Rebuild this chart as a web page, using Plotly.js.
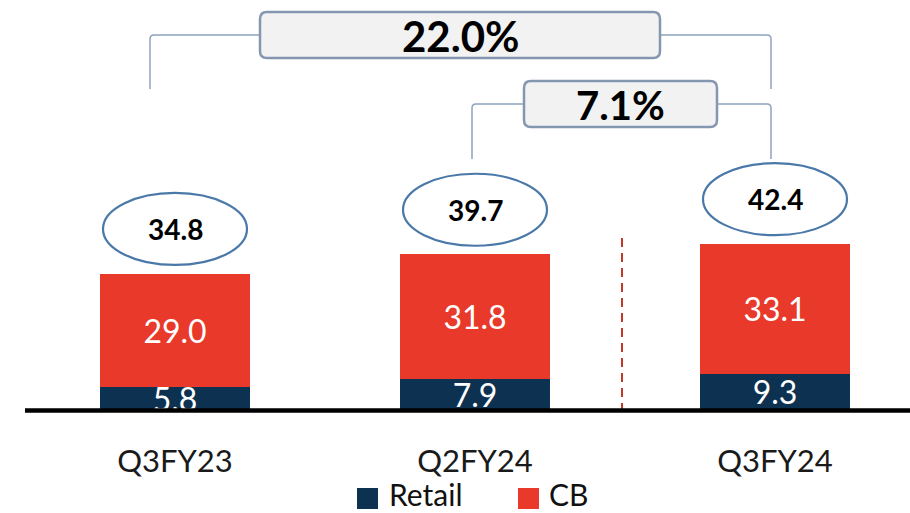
<!DOCTYPE html>
<html>
<head>
<meta charset="utf-8">
<script src="https://cdn.plot.ly/plotly-3.0.1.min.js"></script>
<style>html,body{margin:0;padding:0;background:#fff;}#chart{width:910px;height:513px;}</style>
</head>
<body>
<div id="chart"></div>
<script>
const categories = ['Q3FY23', 'Q2FY24', 'Q3FY24'];
const retail = [5.8, 7.9, 9.3];
const cb = [29.0, 31.8, 33.1];
const totals = [34.8, 39.7, 42.4];
const growthLabels = ['22.0%', '7.1%'];
const seriesNames = ['Retail', 'CB'];

const W = 910, H = 513, PB = 410;
const FONT = 'Lato, "Open Sans", sans-serif';
const NAVY = '#0d3150', RED = '#e8392a';
const pxX = x => x / W;
const pxY = y => (PB - y) / PB;
const yMax = PB / 3.92;

const traces = [
  {type: 'bar', name: seriesNames[0], x: categories, y: retail, marker: {color: NAVY},
   text: retail.map(v => v.toFixed(1)), textposition: 'inside', insidetextanchor: 'middle',
   constraintext: 'none', textangle: 0, cliponaxis: false,
   textfont: {family: FONT, size: 32, color: '#ffffff'}, width: 0.5, hoverinfo: 'skip', showlegend: false},
  {type: 'bar', name: seriesNames[1], x: categories, y: cb, marker: {color: RED},
   text: cb.map(v => v.toFixed(1)), textposition: 'inside', insidetextanchor: 'middle',
   constraintext: 'none', textangle: 0, cliponaxis: false,
   textfont: {family: FONT, size: 32, color: '#ffffff'}, width: 0.5, hoverinfo: 'skip', showlegend: false}
];

const shapes = [];
const annotations = [];

// ellipses with totals
const ellH = 72 / 3.92;
totals.forEach((t, i) => {
  const y0 = t + 2.2, y1 = y0 + ellH;
  shapes.push({type: 'circle', xref: 'x', yref: 'y', x0: i - 0.24, x1: i + 0.24, y0: y0, y1: y1,
    line: {color: '#4a78a8', width: 2.2}, fillcolor: 'rgba(255,255,255,0)'});
  annotations.push({xref: 'x', yref: 'y', x: i, y: (y0 + y1) / 2, text: '<b>' + t.toFixed(1) + '</b>',
    showarrow: false, font: {family: FONT, size: 28, color: '#000'}, xanchor: 'center', yanchor: 'middle'});
});

// bracket helper
function bracket(xl, xr, yTop, yBotL, yBotR) {
  const r = 4;
  const p = (x, y) => pxX(x) + ',' + pxY(y);
  return 'M' + p(xl, yBotL) + ' L' + p(xl, yTop + r) + ' Q' + p(xl, yTop) + ' ' + p(xl + r, yTop) +
    ' L' + p(xr - r, yTop) + ' Q' + p(xr, yTop) + ' ' + p(xr, yTop + r) + ' L' + p(xr, yBotR);
}
function roundRect(x0, y0, x1, y1, r) {
  const p = (x, y) => pxX(x) + ',' + pxY(y);
  return 'M' + p(x0 + r, y0) + ' L' + p(x1 - r, y0) + ' Q' + p(x1, y0) + ' ' + p(x1, y0 + r) +
    ' L' + p(x1, y1 - r) + ' Q' + p(x1, y1) + ' ' + p(x1 - r, y1) +
    ' L' + p(x0 + r, y1) + ' Q' + p(x0, y1) + ' ' + p(x0, y1 - r) +
    ' L' + p(x0, y0 + r) + ' Q' + p(x0, y0) + ' ' + p(x0 + r, y0) + ' Z';
}
const bracketLine = {color: '#8fa2bd', width: 1.5};
shapes.push({type: 'path', xref: 'paper', yref: 'paper', path: bracket(150, 771, 35, 89, 89), line: bracketLine});
shapes.push({type: 'path', xref: 'paper', yref: 'paper', path: bracket(472, 771, 104, 159, 159), line: bracketLine});
const boxStyle = {color: '#8496b0', width: 2.5};
shapes.push({type: 'path', xref: 'paper', yref: 'paper', path: roundRect(260, 12, 660, 58, 7), line: boxStyle, fillcolor: '#f2f2f2'});
shapes.push({type: 'path', xref: 'paper', yref: 'paper', path: roundRect(524, 81, 717, 127, 7), line: boxStyle, fillcolor: '#f2f2f2'});
annotations.push({xref: 'paper', yref: 'paper', x: pxX(460), y: pxY(36), text: '<b>' + growthLabels[0] + '</b>',
  showarrow: false, font: {family: FONT, size: 42, color: '#000'}, xanchor: 'center', yanchor: 'middle'});
annotations.push({xref: 'paper', yref: 'paper', x: pxX(620), y: pxY(105), text: '<b>' + growthLabels[1] + '</b>',
  showarrow: false, font: {family: FONT, size: 40, color: '#000'}, xanchor: 'center', yanchor: 'middle'});

// dashed separator
shapes.push({type: 'line', xref: 'paper', yref: 'paper', x0: pxX(622), x1: pxX(622), y0: pxY(238), y1: pxY(409),
  line: {color: '#c0392b', width: 2, dash: '9px,6px'}});

// baseline
shapes.push({type: 'line', xref: 'paper', yref: 'paper', x0: pxX(25), x1: 1, y0: pxY(410.5), y1: pxY(410.5), layer: 'above',
  line: {color: '#000', width: 4.5}});

// manual legend
const legColors = [NAVY, RED];
const legSq = [357, 518];
const legTx = [388, 548];
seriesNames.forEach((n, i) => {
  shapes.push({type: 'rect', xref: 'paper', yref: 'paper', x0: pxX(legSq[i]), x1: pxX(legSq[i] + 21),
    y0: pxY(488), y1: pxY(509), fillcolor: legColors[i], line: {width: 0}});
  annotations.push({xref: 'paper', yref: 'paper', x: pxX(legTx[i]), y: pxY(494), text: n, showarrow: false,
    xanchor: 'left', yanchor: 'middle', borderpad: 0, font: {family: FONT, size: 30, color: '#111'}});
});

const layout = {
  width: W, height: H,
  margin: {l: 0, r: 0, t: 0, b: H - PB, pad: 0},
  paper_bgcolor: '#ffffff', plot_bgcolor: '#ffffff',
  barmode: 'stack',
  showlegend: false,
  xaxis: {type: 'category', range: [-175 / 300, (W - 175) / 300], showgrid: false, zeroline: false,
    showline: false, ticks: '', ticklabelstandoff: 30,
    tickfont: {family: FONT, size: 31, color: '#1a1a1a'}, fixedrange: true},
  yaxis: {range: [0, yMax], visible: false, showgrid: false, zeroline: false, fixedrange: true},
  shapes: shapes,
  annotations: annotations,
  font: {family: FONT}
};

Plotly.newPlot('chart', traces, layout, {displayModeBar: false, staticPlot: true});
</script>
</body>
</html>
